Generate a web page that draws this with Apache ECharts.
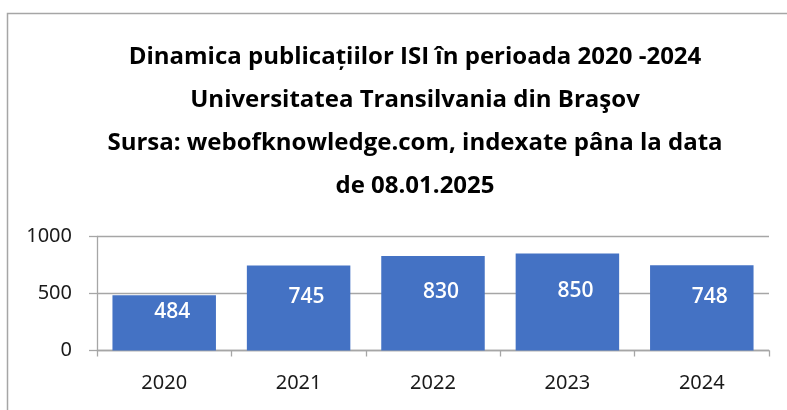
<!DOCTYPE html>
<html>
<head>
<meta charset="utf-8">
<style>
  html, body { margin: 0; padding: 0; background: #fff; }
  #chart { width: 787px; height: 410px; }
</style>
<script src="https://cdn.jsdelivr.net/npm/echarts@6/dist/echarts.min.js"></script>
</head>
<body>
<div id="chart"></div>
<script>
const years = ['2020', '2021', '2022', '2023', '2024']
const publications = [484, 745, 830, 850, 748]
const yTicks = [0, 500, 1000]

const titleLines = [
  'Dinamica publicațiilor ISI în perioada 2020 -2024',
  'Universitatea Transilvania din Braşov',
  'Sursa: webofknowledge.com, indexate pâna la data',
  'de 08.01.2025'
]

const chart = echarts.init(document.getElementById('chart'))

chart.setOption({
  animation: false,
  title: {
    text: titleLines.join('\n'),
    left: 410,
    textAlign: 'center',
    top: 31,
    textStyle: {
      fontFamily: 'Open Sans',
      fontWeight: 'bold',
      fontSize: 24,
      lineHeight: 43,
      color: '#000'
    }
  },
  graphic: [{
    type: 'polyline',
    shape: { points: [[7.5, 410], [7.5, 13.5], [787, 13.5]] },
    style: { stroke: '#a6a6a6', lineWidth: 1.5, fill: null }
  }],
  grid: {
    left: 97,
    right: 18,
    top: 236.5,
    bottom: 59.5,
    containLabel: false
  },
  xAxis: {
    type: 'category',
    data: years,
    axisLine: { lineStyle: { color: '#a6a6a6', width: 1.3 } },
    axisTick: { show: true, length: 6, lineStyle: { color: '#a6a6a6', width: 1.3 } },
    axisLabel: {
      margin: 23,
      fontFamily: 'Noto Sans',
      fontSize: 20,
      color: '#1a1a1a'
    }
  },
  yAxis: {
    type: 'value',
    min: yTicks[0],
    max: yTicks[yTicks.length - 1],
    interval: yTicks[1] - yTicks[0],
    axisLine: { show: true, lineStyle: { color: '#a6a6a6', width: 1.3 } },
    axisTick: { show: true, inside: false, length: 8, lineStyle: { color: '#a6a6a6', width: 1.3 } },
    splitLine: { lineStyle: { color: '#a6a6a6', width: 1.3 } },
    axisLabel: {
      margin: 25,
      fontFamily: 'Noto Sans',
      fontSize: 20,
      color: '#1a1a1a',
      formatter: v => String(v)
    }
  },
  series: [{
    type: 'bar',
    data: publications,
    barCategoryGap: '23%',
    itemStyle: { color: '#4472c4' },
    label: {
      show: true,
      position: 'inside',
      offset: [8, -11],
      fontFamily: 'Open Sans',
      fontWeight: 600,
      fontSize: 21,
      color: '#fff'
    }
  }]
})
</script>
</body>
</html>
